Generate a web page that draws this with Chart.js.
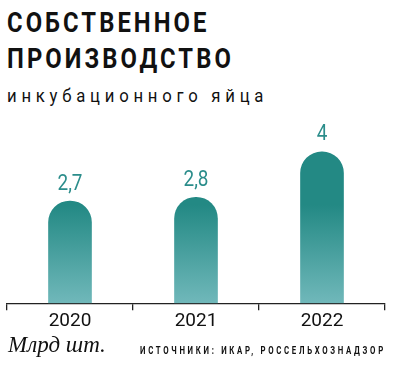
<!DOCTYPE html>
<html>
<head>
<meta charset="utf-8">
<script src="https://cdn.jsdelivr.net/npm/chart.js@4"></script>
<style>
  body { margin: 0; width: 398px; height: 371px; background: #fff; position: relative; overflow: hidden; }
  .t { position: absolute; left: 7px; margin: 0; white-space: nowrap; transform-origin: left top; }
  #title { top: 5px; font: bold 28px/36px Roboto, sans-serif; letter-spacing: 3.6px; color: #111; transform: scaleX(0.85); }
  #sub { top: 84px; font: 19px/24px Roboto, sans-serif; letter-spacing: 5.4px; color: #111; transform: scaleX(0.88); }
  #unit { top: 332px; left: 8px; font: italic 23px/26px "Liberation Serif", serif; color: #111; }
  #src { top: 344px; left: 140px; font: bold 10px/14px Roboto, sans-serif; letter-spacing: 3.45px; color: #111; transform: scaleX(0.78); }
  #wrap { position: absolute; left: 0; top: 100px; width: 398px; height: 237px; }
</style>
</head>
<body>
<div id="title" class="t">СОБСТВЕННОЕ<br>ПРОИЗВОДСТВО</div>
<div id="sub" class="t">инкубационного яйца</div>
<div id="wrap"><canvas id="chart"></canvas></div>
<div id="unit" class="t">Млрд шт.</div>
<div id="src" class="t">ИСТОЧНИКИ: ИКАР, РОССЕЛЬХОЗНАДЗОР</div>
<script>
// data
var years = ['2020', '2021', '2022'];
var values = [2.7, 2.8, 4];
var valueLabels = ['2,7', '2,8', '4'];

function barGradient(context) {
  var chart = context.chart;
  var area = chart.chartArea;
  if (!area) return '#2a8c88';
  var yTop = chart.scales.y.getPixelForValue(2.6);
  var g = chart.ctx.createLinearGradient(0, yTop, 0, area.bottom);
  g.addColorStop(0, '#238984');
  g.addColorStop(1, '#70b8ba');
  return g;
}

// draws the numbers above the bars (a bit condensed)
var valueLabelPlugin = {
  id: 'valueLabels',
  afterDatasetsDraw: function(chart) {
    var ctx = chart.ctx;
    var meta = chart.getDatasetMeta(0);
    meta.data.forEach(function(bar, i) {
      ctx.save();
      ctx.translate(bar.x, bar.y - 6);
      ctx.scale(0.86, 1);
      ctx.fillStyle = '#2b8d8b';
      ctx.font = '22px Roboto, sans-serif';
      ctx.textAlign = 'center';
      ctx.textBaseline = 'bottom';
      ctx.fillText(valueLabels[i], 0, 0);
      ctx.restore();
    });
  }
};

new Chart(document.getElementById('chart'), {
  type: 'bar',
  data: {
    labels: years,
    datasets: [{
      data: values,
      backgroundColor: barGradient,
      barThickness: 43,
      borderRadius: { topLeft: 22, topRight: 22 },
      borderSkipped: 'bottom'
    }]
  },
  options: {
    responsive: true,
    maintainAspectRatio: false,
    animation: false,
    layout: { padding: { left: 7, right: 13, top: 14, bottom: 4 } },
    plugins: { legend: { display: false }, tooltip: { enabled: false } },
    scales: {
      y: { display: false, min: 0, max: 5 },
      x: {
        grid: { drawOnChartArea: false, drawTicks: true, tickLength: 7, color: '#222', lineWidth: 1.3 },
        border: { color: '#222', width: 1.3 },
        ticks: { color: '#111', padding: 0, font: { family: 'Roboto, sans-serif', size: 19 } }
      }
    }
  },
  plugins: [valueLabelPlugin]
});
</script>
</body>
</html>
